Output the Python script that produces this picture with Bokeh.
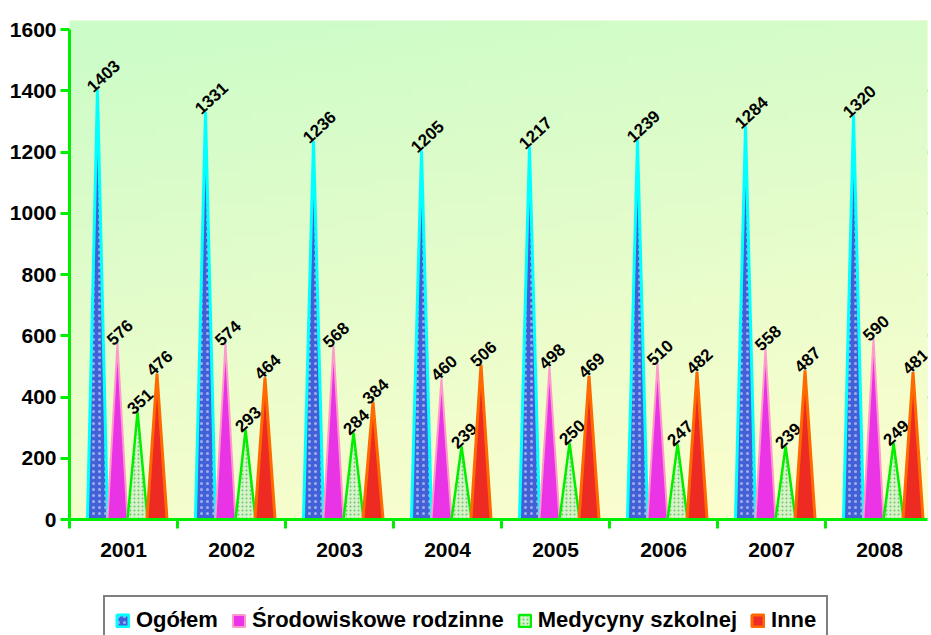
import numpy as np
from bokeh.plotting import figure
from bokeh.layouts import column
from bokeh.models import (Range1d, FixedTicker, BoxAnnotation, Legend, LegendItem)
from bokeh.core.properties import value
from bokeh.embed import file_html
from bokeh.resources import INLINE

years = ["2001", "2002", "2003", "2004", "2005", "2006", "2007", "2008"]
series_names = ["Ogółem", "Środowiskowe rodzinne", "Medycyny szkolnej", "Inne"]
ogolem = [1403, 1331, 1236, 1205, 1217, 1239, 1284, 1320]
srodowiskowe = [576, 574, 568, 460, 498, 510, 558, 590]
medycyny = [351, 293, 284, 239, 250, 247, 239, 249]
inne = [476, 464, 384, 506, 469, 482, 487, 481]
y_ticks = [0, 200, 400, 600, 800, 1000, 1200, 1400, 1600]

FONT = "Liberation Sans"

X_END = 7.944
Y_END = 1629.4

p = figure(width=931, height=590, output_backend="svg", toolbar_location=None,
           x_range=Range1d(0, X_END), y_range=Range1d(0, Y_END),
           min_border_left=69, min_border_right=4, min_border_top=20,
           min_border_bottom=71)
p.outline_line_color = None
p.background_fill_color = "#e6fcc8"
p.border_fill_color = "white"

# background gradient (decorative)
H, W = 60, 80
xs_g = np.linspace(0, 1, W)[None, :]
ys_g = np.linspace(0, 1, H)[:, None]
t = np.clip(0.22 * xs_g + 0.8 * (1 - ys_g) - 0.02, 0, 1)
c1 = np.array([204, 252, 200])
c2 = np.array([255, 254, 206])
img = np.empty((H, W), dtype=np.uint32)
view = img.view(dtype=np.uint8).reshape((H, W, 4))
for k in range(3):
    view[:, :, k] = (c1[k] + (c2[k] - c1[k]) * t).astype(np.uint8)
view[:, :, 3] = 255
p.image_rgba(image=[img], x=0, y=0, dw=X_END, dh=Y_END)

floor = BoxAnnotation(left=0.08, bottom=0, top=26, fill_color="#c8f6d6",
                      fill_alpha=1, line_color=None, level="underlay")
p.add_layout(floor)

offsets = [0.259, 0.444, 0.630, 0.810]
half = 0.093
styles = [
    dict(fill_color="#2f4fd8", line_color="#00ffff", line_width=3,
         hatch_pattern="dot", hatch_color="white", hatch_alpha=0.5, hatch_scale=6, hatch_weight=1.2),
    dict(fill_color="#e81ee8", line_color="#ff99cc", line_width=2),
    dict(fill_color="#d6f0cc", line_color="#00ee00", line_width=2.5,
         hatch_pattern="dot", hatch_color="#33bb33", hatch_alpha=0.7, hatch_scale=4, hatch_weight=1.5),
    dict(fill_color="#ec1410", line_color="#ff6a00", line_width=3),
]
all_series = [ogolem, srodowiskowe, medycyny, inne]
for s, (vals, st) in enumerate(zip(all_series, styles)):
    pxs, pys, lx, ly, lt = [], [], [], [], []
    for i, v in enumerate(vals):
        c = i + offsets[s]
        pxs.append([c - half, c, c + half])
        pys.append([0, v, 0])
        lx.append(c)
        ly.append(v)
        lt.append(str(v))
    p.patches(pxs, pys, fill_alpha=0.9, **st)
    p.text(lx, ly, text=lt, angle=0.75, text_align="left", text_baseline="alphabetic",
           x_offset=-8, y_offset=-1, text_font=value(FONT), text_font_style="bold",
           text_font_size="17px", text_color="black")

# axes
p.yaxis.ticker = FixedTicker(ticks=y_ticks)
p.yaxis.bounds = (0, 1600)
p.yaxis.axis_line_color = "#00ee00"
p.yaxis.axis_line_width = 3
p.yaxis.major_tick_line_color = "#00ee00"
p.yaxis.major_tick_line_width = 3
p.yaxis.major_tick_out = 9
p.yaxis.major_tick_in = 0
p.yaxis.minor_tick_line_color = None
p.yaxis.major_label_standoff = 4
p.yaxis.major_label_text_font = FONT
p.yaxis.major_label_text_font_style = "bold"
p.yaxis.major_label_text_font_size = "21px"
p.yaxis.major_label_text_color = "black"

centers = [i + 0.5 for i in range(len(years))]
p.xaxis.ticker = FixedTicker(ticks=centers, minor_ticks=list(range(len(years) + 1)))
p.xaxis.major_label_overrides = {c: y for c, y in zip(centers, years)}
p.xaxis.axis_line_color = "#00ee00"
p.xaxis.axis_line_width = 3
p.xaxis.major_tick_line_color = None
p.xaxis.major_tick_out = 0
p.xaxis.major_tick_in = 0
p.xaxis.minor_tick_line_color = "#00ee00"
p.xaxis.minor_tick_line_width = 3
p.xaxis.minor_tick_out = 9
p.xaxis.minor_tick_in = 0
p.xaxis.major_label_standoff = 14
p.xaxis.major_label_text_font = FONT
p.xaxis.major_label_text_font_style = "bold"
p.xaxis.major_label_text_font_size = "21px"
p.xaxis.major_label_text_color = "black"

p.xgrid.grid_line_color = None
p.ygrid.ticker = FixedTicker(ticks=[200, 400, 600, 800, 1000, 1200, 1400])
p.ygrid.grid_line_color = "#00e600"
p.ygrid.grid_line_width = 3

# legend strip (frames are aligned by the column layout)
q = figure(width=931, height=45, output_backend="svg", toolbar_location=None,
           x_range=Range1d(0, 1), y_range=Range1d(1, 2),
           x_axis_type=None, y_axis_type=None,
           min_border_left=0, min_border_right=0, min_border_top=0, min_border_bottom=0)
q.outline_line_color = None
q.xgrid.grid_line_color = None
q.ygrid.grid_line_color = None
q.background_fill_color = "white"
q.border_fill_color = "white"
items = []
for s, st in enumerate(styles):
    # placeholder renderer (outside the visible range) that only supplies the legend swatch
    r = q.patches(xs=[[0, 0, 0]], ys=[[0, 0, 0]], fill_alpha=0.9, **st)
    items.append(LegendItem(label=series_names[s], renderers=[r]))

legend = Legend(items=items, orientation="horizontal", location=(34, -10))
legend.border_line_color = "black"
legend.border_line_width = 2
legend.background_fill_color = "white"
legend.background_fill_alpha = 1
legend.label_text_font = FONT
legend.label_text_font_style = "bold"
legend.label_text_font_size = "22px"
legend.label_text_color = "black"
legend.glyph_width = 15
legend.glyph_height = 15
legend.label_standoff = 6
legend.spacing = 13
legend.padding = 10
legend.margin = 0
q.add_layout(legend, "center")

layout = column(p, q, spacing=0)
open("out.html", "w").write(file_html(layout, INLINE))
